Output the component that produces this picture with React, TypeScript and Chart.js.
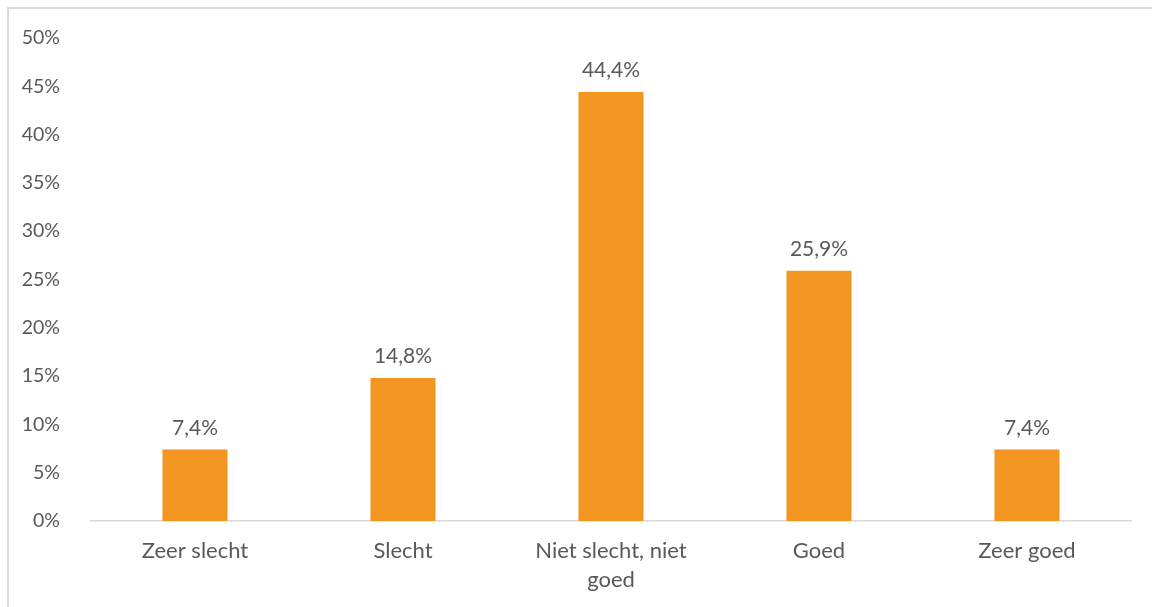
import React, { useEffect, useRef } from "react";
import { Chart, registerables } from "chart.js";

Chart.register(...registerables);

const categories: (string | string[])[] = [
  "Zeer slecht",
  "Slecht",
  ["Niet slecht, niet", "goed"],
  "Goed",
  "Zeer goed",
];
const values: number[] = [7.4, 14.8, 44.4, 25.9, 7.4];
const yTicks: number[] = [0, 5, 10, 15, 20, 25, 30, 35, 40, 45, 50];

const FONT = "Lato, 'Open Sans', sans-serif";
const TEXT = "#595959";

const valueLabels = {
  id: "valueLabels",
  afterDatasetsDraw(chart: any) {
    const ctx = chart.ctx;
    const meta = chart.getDatasetMeta(0);
    ctx.save();
    ctx.font = `21px ${FONT}`;
    ctx.fillStyle = TEXT;
    ctx.textAlign = "center";
    ctx.textBaseline = "bottom";
    meta.data.forEach((bar: any, i: number) => {
      const v = values[i];
      ctx.fillText(v.toFixed(1).replace(".", ",") + "%", bar.x, bar.y - 11);
    });
    ctx.restore();
  },
};

export default function App() {
  const ref = useRef<HTMLCanvasElement>(null);
  useEffect(() => {
    if (!ref.current) return;
    const chart = new Chart(ref.current, {
      type: "bar",
      data: {
        labels: categories,
        datasets: [
          {
            data: values,
            backgroundColor: "#F39621",
            barPercentage: 0.3125,
            categoryPercentage: 1,
          },
        ],
      },
      options: {
        animation: false,
        responsive: false,
        maintainAspectRatio: false,
        layout: { padding: { top: 38, right: 21, bottom: 0, left: 0 } },
        plugins: {
          legend: { display: false },
          tooltip: { enabled: false },
        },
        scales: {
          x: {
            grid: { display: false },
            border: { display: true, color: "#d9d9d9", width: 1.5 },
            ticks: {
              color: TEXT,
              font: { family: FONT, size: 22, lineHeight: 1.3 },
              padding: 8,
              maxRotation: 0,
              autoSkip: false,
            },
            afterFit: (s: any) => {
              s.height = 86;
            },
          },
          y: {
            min: 0,
            max: 50,
            afterBuildTicks: (s: any) => {
              s.ticks = yTicks.map((v) => ({ value: v }));
            },
            grid: { display: false },
            border: { display: false },
            ticks: {
              color: TEXT,
              font: { family: FONT, size: 19.5 },
              padding: 23,
              callback: (v: any) => v + "%",
            },
            afterFit: (s: any) => {
              s.width = 91;
            },
          },
        },
      },
      plugins: [valueLabels],
    });
    return () => chart.destroy();
  }, []);
  return (
    <div
      style={{
        position: "fixed",
        left: 0,
        top: 0,
        width: 1152,
        height: 607,
        overflow: "hidden",
        background: "#fff",
      }}
    >
      <div
        style={{
          position: "absolute",
          left: 7,
          top: 7,
          width: 1200,
          height: 700,
          borderLeft: "2px solid #d9d9d9",
          borderTop: "2px solid #d9d9d9",
        }}
      />
      <canvas
        ref={ref}
        width={1152}
        height={607}
        style={{ position: "absolute", left: 0, top: 0, width: 1152, height: 607 }}
      />
    </div>
  );
}
